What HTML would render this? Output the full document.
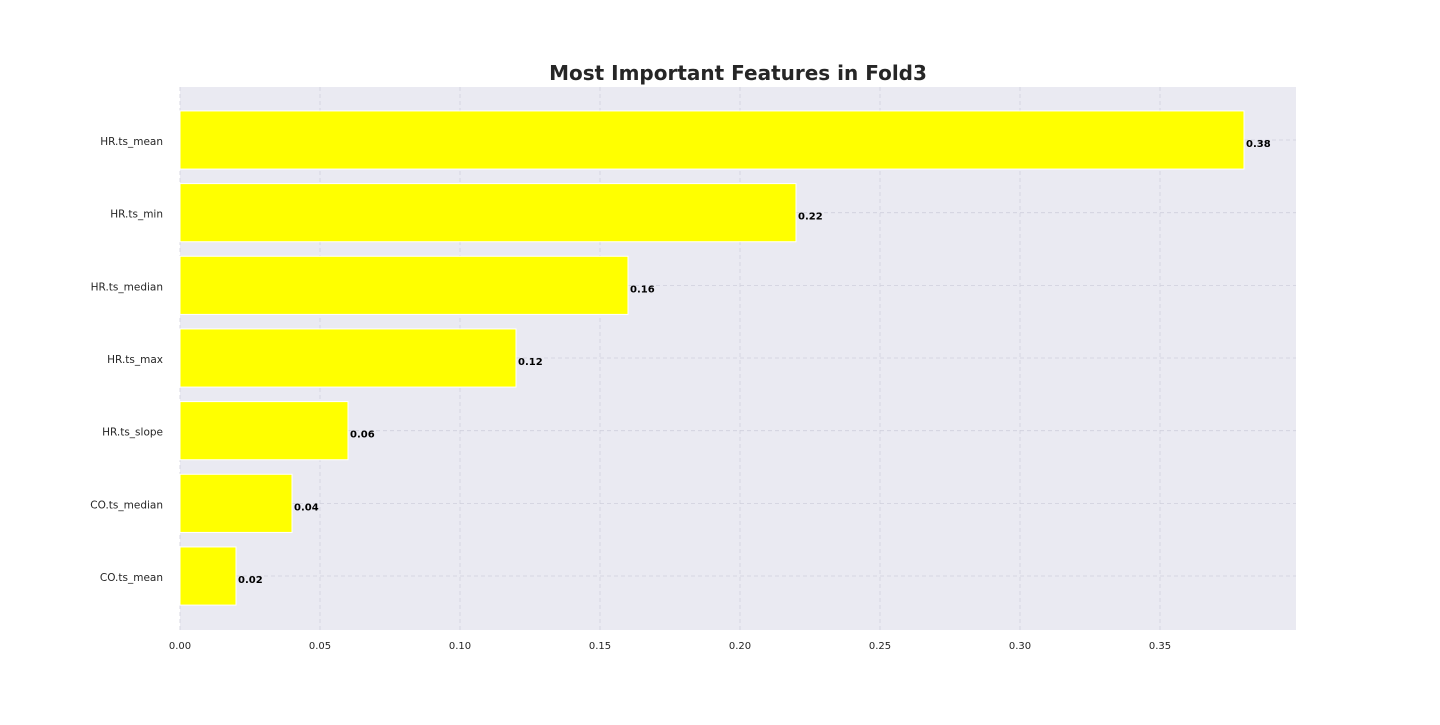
<!DOCTYPE html>
<html><head><meta charset="utf-8"><style>
body{margin:0;background:#fff;font-family:"Liberation Sans",sans-serif;}
svg text{font-family:"DejaVu Sans","Liberation Sans",sans-serif;}
</style></head><body>
<svg id="chart" width="1440" height="720">
<rect x="180" y="87" width="1116" height="543" fill="#eaeaf2"/>
<text x="738" y="80" text-anchor="middle" font-size="20" font-weight="bold" fill="#262626">Most Important Features in Fold3</text>
<g id="grid"></g><g id="bars"></g><g id="ticks"></g>
</svg>
<script>
const categories=["HR.ts_mean","HR.ts_min","HR.ts_median","HR.ts_max","HR.ts_slope","CO.ts_median","CO.ts_mean"];
const values=[0.38,0.22,0.16,0.12,0.06,0.04,0.02];
const valueLabels=["0.38","0.22","0.16","0.12","0.06","0.04","0.02"];
const xTicks=[0,0.05,0.10,0.15,0.20,0.25,0.30,0.35];
const xTickLabels=["0.00","0.05","0.10","0.15","0.20","0.25","0.30","0.35"];
const NS="http://www.w3.org/2000/svg";
const x0=180,x1=1296,xMax=(1296-180)/2800;
const xs=v=>x0+v/xMax*(x1-x0);
const step=72.67,yTop=140;
const yc=i=>yTop+i*step;
const bh=step*0.8;
function mk(t,a,p){const e=document.createElementNS(NS,t);for(const k in a)e.setAttribute(k,a[k]);p.appendChild(e);return e;}
const grid=document.getElementById('grid'),bars=document.getElementById('bars'),ticks=document.getElementById('ticks');
xTicks.forEach((t,i)=>{
 const l=mk('line',{x1:xs(t),x2:xs(t),y1:87,y2:630,stroke:'#d0d0dc','stroke-dasharray':'4,3','stroke-width':0.8},grid);
 
 
 const tx=mk('text',{x:xs(t),y:649,'text-anchor':'middle','font-size':10,fill:'#262626'},ticks);
 tx.textContent=xTickLabels[i];
 
 
});
categories.forEach((c,i)=>{
 const l=mk('line',{x1:180,x2:1296,y1:yc(i),y2:yc(i),stroke:'#d0d0dc','stroke-dasharray':'4,3','stroke-width':0.8},grid);
 
 
 const r=mk('rect',{x:xs(0),y:yc(i)-bh/2,width:xs(values[i])-xs(0),height:bh,fill:'#ffff00',stroke:'#fff','stroke-width':1},bars);
 
 
 const v=mk('text',{x:xs(values[i])+2,y:yc(i)+7,'font-size':10,'font-weight':'bold',fill:'#000'},bars);
 v.textContent=valueLabels[i];
 
 
 const t=mk('text',{x:163,y:yc(i)+5,'text-anchor':'end','font-size':10.5,fill:'#262626'},ticks);
 t.textContent=c;
 
 
});
</script>
</body></html>
